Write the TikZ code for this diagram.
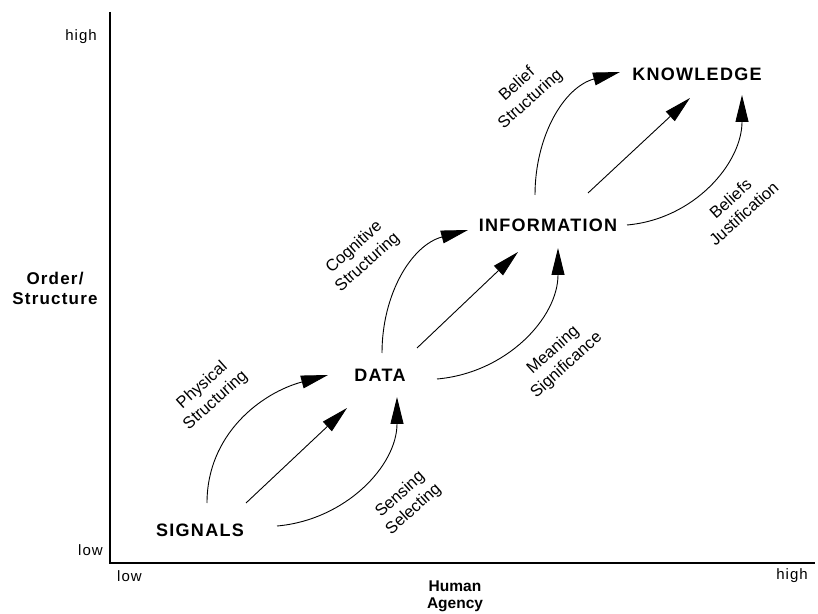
\documentclass[tikz,border=0pt]{standalone}
\usepackage{fontspec}
\setmainfont{Liberation Sans}
\newfontfamily\widesans[LetterSpace=7]{Liberation Sans}
\usepackage{tikz}
\usetikzlibrary{arrows.meta}
\tikzstyle{stage}=[inner sep=0pt, font=\widesans\bfseries\fontsize{18}{20}\selectfont]
\tikzstyle{flow}=[line width=0.9pt, -{Triangle[length=27pt,width=13pt]}]
\tikzstyle{verb}=[rotate=42, align=center, inner sep=0pt, font=\fontsize{16.5}{20}\selectfont]
\tikzstyle{axislabel}=[align=center, inner sep=0pt, font=\widesans\bfseries\fontsize{17}{20}\selectfont]
\tikzstyle{agencylabel}=[align=center, inner sep=0pt, font=\bfseries\fontsize{15.5}{17}\selectfont]
\tikzstyle{scalemark}=[inner sep=0pt, font=\widesans\fontsize{15}{17}\selectfont]

\begin{document}
\begin{tikzpicture}[x=1pt,y=1pt]
    \useasboundingbox (0,0) rectangle (818,613);
    % axes
    \coordinate (ytop) at (110,601);
    \coordinate (origin) at (110,50);
    \coordinate (xend) at (815,50);
    \draw[line width=1.2pt] (ytop) -- (origin) -- (xend);
    \node[scalemark, anchor=east] (yhigh) at (97,576) {high};
    \node[scalemark, anchor=east] (ylow) at (103,63) {low};
    \node[scalemark, anchor=west] (xlow) at (117,37) {low};
    \node[scalemark, anchor=east] (xhigh) at (808,37) {high};
    \node[axislabel] (ytitle) at (55,325) {Order/\\Structure};
    \node[agencylabel] (xtitle) at (455,17) {Human\\Agency};

    % stages
    \node[stage] (sig) at (200,83) {SIGNALS};
    \node[stage] (data) at (380,238) {DATA};
    \node[stage] (info) at (548,388) {INFORMATION};
    \node[stage] (know) at (697,539) {KNOWLEDGE};

    % labels on the arcs
    \node[verb] (lphys) at (209,220) {Physical\\Structuring};
    \node[verb] (lsens) at (407,111) {Sensing\\Selecting};
    \node[verb] (lcog) at (361,358) {Cognitive\\Structuring};
    \node[verb] (lmean) at (560,255) {Meaning\\Significance};
    \node[verb] (lbel) at (524,521) {Belief\\Structuring};
    \node[verb] (ljust) at (737,407) {Beliefs\\Justification};

    % signals -> data
    \draw[flow] ([shift={(7,27)}]sig.center) to[out=90,in=195] ([shift={(-52,0)}]data.center);
    \draw[flow] ([shift={(46,27)}]sig.center) -- ([shift={(-33,-33)}]data.center);
    \draw[flow] ([shift={(77,4)}]sig.center) to[out=5,in=270] ([shift={(17,-22)}]data.center);
    % data -> information
    \draw[flow] ([shift={(2,22)}]data.center) to[out=90,in=195] ([shift={(-80,-5)}]info.center);
    \draw[flow] ([shift={(37,27)}]data.center) -- ([shift={(-30,-27)}]info.center);
    \draw[flow] ([shift={(57,-4)}]data.center) to[out=5,in=270] ([shift={(10,-23)}]info.center);
    % information -> knowledge
    \draw[flow] ([shift={(-13,30)}]info.center) to[out=90,in=195] ([shift={(-77,2)}]know.center);
    \draw[flow] ([shift={(40,32)}]info.center) -- ([shift={(-7,-24)}]know.center);
    \draw[flow] ([shift={(79,0)}]info.center) to[out=5,in=270] ([shift={(45,-21)}]know.center);
\end{tikzpicture}
\end{document}
